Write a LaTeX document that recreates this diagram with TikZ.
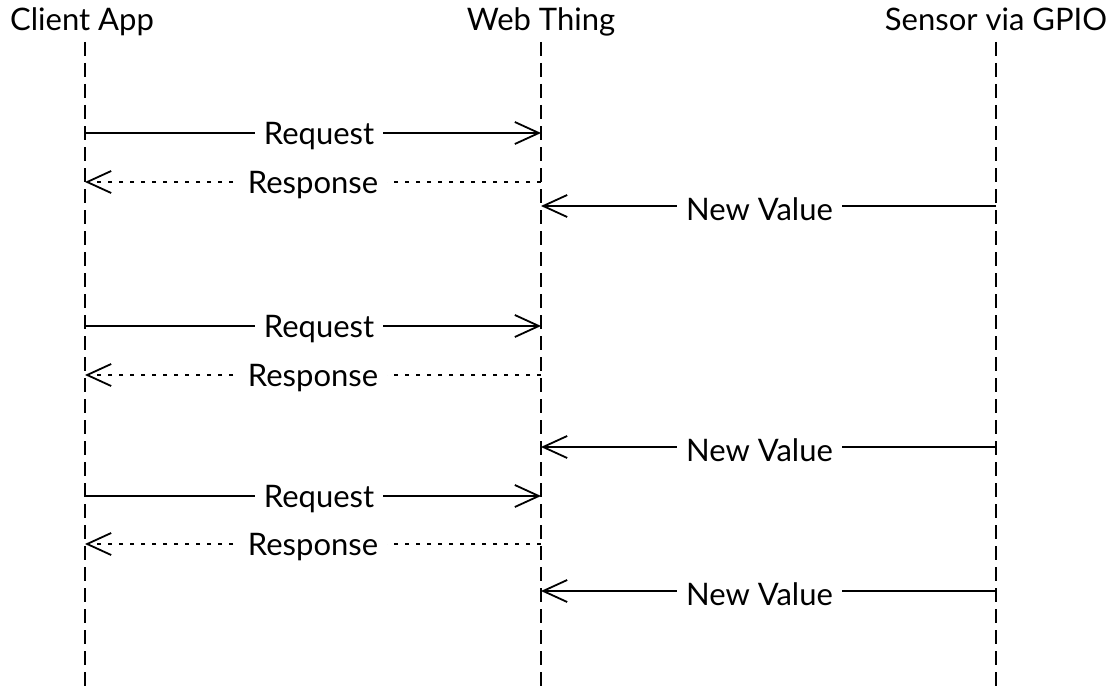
\documentclass[tikz,border=0pt]{standalone}
\usepackage{fontspec}
\setmainfont{Lato}
\usetikzlibrary{arrows.meta}
\begin{document}
\begin{tikzpicture}[x=1pt,y=-1pt,
  every node/.style={font=\fontsize{31}{36}\selectfont, inner sep=0pt},
  lifeline/.style={line width=1.8pt, dash pattern=on 14pt off 7pt},
  msg/.style={line width=1.8pt, -{Straight Barb[length=24pt,width=22pt,line width=1.8pt]}},
  reply/.style={msg, dash pattern=on 4pt off 7pt},
  lbl/.style={fill=white, inner xsep=9pt, inner ysep=3pt, yshift=-3pt}]
\useasboundingbox (0,0) rectangle (1118,690);

% participants
\node[anchor=base] (client) at (82,31) {Client App};
\node[anchor=base] (thing)  at (541,31) {Web Thing};
\node[anchor=base] (sensor) at (996,31) {Sensor via GPIO};

% lifelines
\coordinate (cTop) at (85,42);  \coordinate (cBot) at (85,690);
\coordinate (tTop) at (541,42); \coordinate (tBot) at (541,690);
\coordinate (sTop) at (996,42); \coordinate (sBot) at (996,690);
\draw[lifeline] (cTop) -- (cBot);
\draw[lifeline] (tTop) -- (tBot);
\draw[lifeline] (sTop) -- (sBot);

% message rows
\foreach \y [count=\i] in {133,326,496}{
  \coordinate (rqA\i) at (85,\y); \coordinate (rqB\i) at (541,\y);
  \draw[msg] (rqA\i) -- node[lbl, xshift=6pt] {Request} (rqB\i);
}
\foreach \y [count=\i] in {182,375,544}{
  \coordinate (rsA\i) at (541,\y); \coordinate (rsB\i) at (85,\y);
  \draw[reply] (rsA\i) -- node[lbl] {Response} (rsB\i);
}
\foreach \y [count=\i] in {206,447,591}{
  \coordinate (nvA\i) at (996,\y); \coordinate (nvB\i) at (541,\y);
  \draw[msg] (nvA\i) -- node[lbl, xshift=-9pt] {New Value} (nvB\i);
}
\end{tikzpicture}
\end{document}
